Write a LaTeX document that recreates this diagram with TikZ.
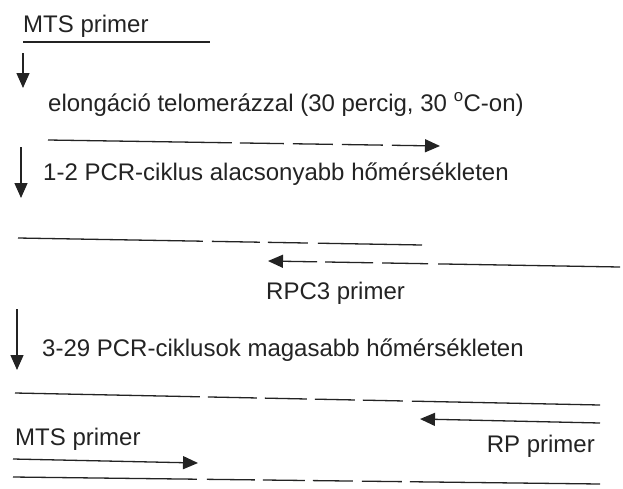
\documentclass[tikz,border=0pt]{standalone}
\usepackage{fontspec}
\setmainfont{Liberation Sans}
\usetikzlibrary{arrows.meta}
\definecolor{ink}{RGB}{35,35,35}

\begin{document}
\begin{tikzpicture}[x=1pt,y=-1pt,>={Triangle[length=15pt,width=13pt]},
  strand/.style={draw=ink,line width=1.3pt},
  label text/.style={anchor=base west,inner sep=0pt,text=ink,font=\fontsize{24}{28}\selectfont}]
  \useasboundingbox (0,0) rectangle (623,488);

  % texts
  \node[label text] (mts1) at (23,32) {MTS primer};
  \node[label text] (elong) at (48,111) {elongáció telomerázzal (30 percig, 30 \textsuperscript{o}C-on)};
  \node[label text] (pcr12) at (43,180) {1-2 PCR-ciklus alacsonyabb hőmérsékleten};
  \node[label text] (rpc3) at (266,299) {RPC3 primer};
  \node[label text] (pcr329) at (42,356) {3-29 PCR-ciklusok magasabb hőmérsékleten};
  \node[label text] (mts2) at (15,445) {MTS primer};
  \node[label text,anchor=base east] (rp) at (595,452) {RP primer};

  % strand ends
  \coordinate (s1a) at (23,42);   \coordinate (s1b) at (210,42);
  \coordinate (s2a) at (48,140);  \coordinate (s2b) at (440,146);
  \coordinate (s3a) at (18,238);  \coordinate (s3b) at (422,245);
  \coordinate (s4a) at (620,267); \coordinate (s4b) at (268,261);
  \coordinate (s5a) at (15,393);  \coordinate (s5b) at (600,405);
  \coordinate (s6a) at (600,423); \coordinate (s6b) at (420,419);
  \coordinate (s7a) at (13,459);  \coordinate (s7b) at (198,463);
  \coordinate (s8a) at (13,477);  \coordinate (s8b) at (600,484);

  % step arrows
  \coordinate (d1a) at (23,53);  \coordinate (d1b) at (23,88);
  \coordinate (d2a) at (21,147); \coordinate (d2b) at (21,198);
  \coordinate (d3a) at (17,309); \coordinate (d3b) at (17,370);

  \draw[strand,->] (d1a) -- (d1b);
  \draw[strand,->] (d2a) -- (d2b);
  \draw[strand,->] (d3a) -- (d3b);

  \draw[strand] (s1a) -- (s1b);
  \draw[strand,->,dash pattern=on 184pt off 8pt on 44pt off 9pt on 40pt off 9pt on 41pt off 9pt on 100pt] (s2a) -- (s2b);
  \draw[strand,dash pattern=on 185pt off 9pt on 48pt off 8pt on 40pt off 10pt on 120pt] (s3a) -- (s3b);
  \draw[strand,->,dash pattern=on 182pt off 10pt on 46pt off 9pt on 48pt off 8pt on 100pt] (s4a) -- (s4b);
  \draw[strand,dash pattern=on 185pt off 8pt on 49pt off 8pt on 42pt off 8pt on 40pt off 8pt on 40pt off 9pt on 200pt] (s5a) -- (s5b);
  \draw[strand,->] (s6a) -- (s6b);
  \draw[strand,->] (s7a) -- (s7b);
  \draw[strand,dash pattern=on 184pt off 10pt on 48pt off 8pt on 42pt off 8pt on 40pt off 9pt on 40pt off 8pt on 200pt] (s8a) -- (s8b);
\end{tikzpicture}
\end{document}
